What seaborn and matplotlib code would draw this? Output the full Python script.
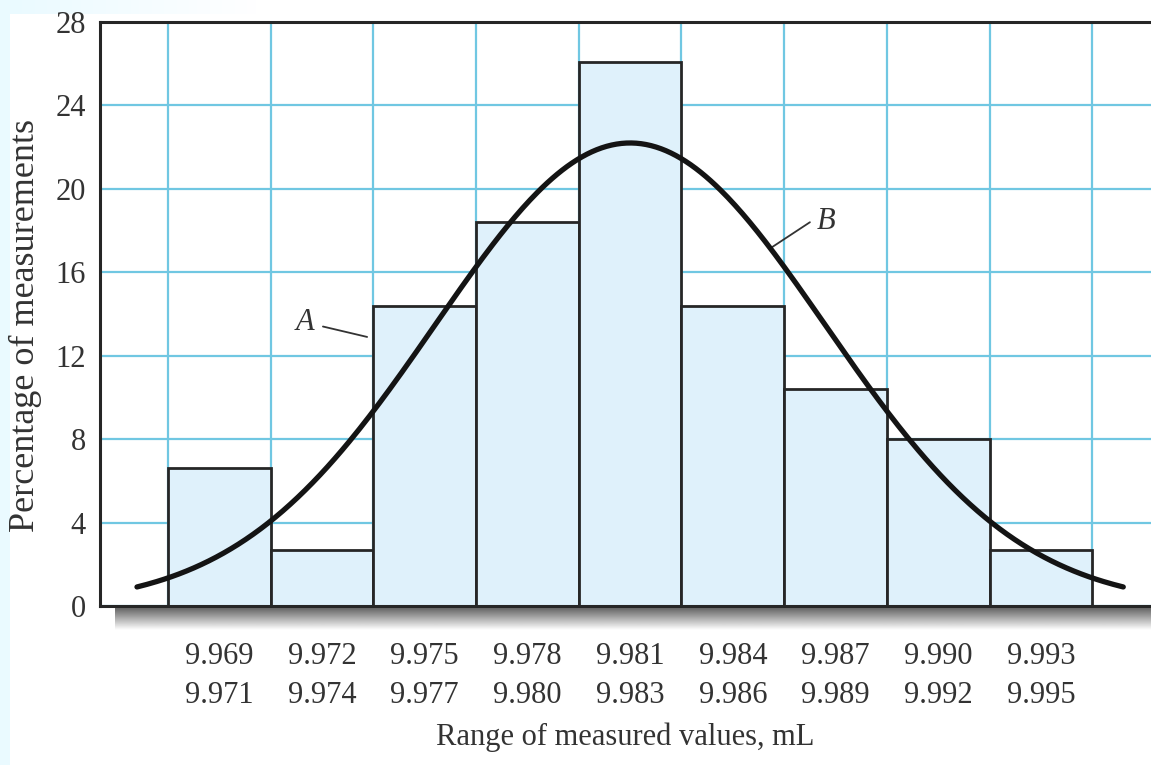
import numpy as np
import matplotlib
matplotlib.use("Agg")
import matplotlib.pyplot as plt
from matplotlib.colors import LinearSegmentedColormap
import seaborn as sns

# histogram data (percent of measurements per volume range, mL)
bin_low = [9.969, 9.972, 9.975, 9.978, 9.981, 9.984, 9.987, 9.990, 9.993]
bin_high = [9.971, 9.974, 9.977, 9.980, 9.983, 9.986, 9.989, 9.992, 9.995]
percent = [6.6, 2.7, 14.4, 18.4, 26.1, 14.4, 10.4, 8.0, 2.7]
y_ticks = [0, 4, 8, 12, 16, 20, 24, 28]

# normal curve B drawn over the histogram
curve_mean = 9.982
curve_sd = 0.0057
curve_peak = 22.2
curve_start, curve_end = 9.9676, 9.9964

width = 0.003
centers = [(lo + hi) / 2 for lo, hi in zip(bin_low, bin_high)]
edges = [c - width / 2 for c in centers] + [centers[-1] + width / 2]
tick_labels = [f"{lo:.3f}\n{hi:.3f}" for lo, hi in zip(bin_low, bin_high)]

sns.set_style("white")
plt.rcParams["font.family"] = ["Liberation Serif", "DejaVu Serif"]

fig = plt.figure(figsize=(11.51, 7.65), dpi=100)
ax = fig.add_axes([100 / 1151, 1 - 606 / 765, 1 - 100 / 1151, 584 / 765])

grid_col = "#70c7e2"
bar_fill = "#dff1fb"
ink = "#262626"
txt = "#333333"

sns.histplot(x=centers, weights=percent, bins=edges, ax=ax, color=bar_fill,
             edgecolor=ink, linewidth=2, alpha=1, zorder=2)

xs = np.linspace(curve_start, curve_end, 400)
ys = curve_peak * np.exp(-0.5 * ((xs - curve_mean) / curve_sd) ** 2)
sns.lineplot(x=xs, y=ys, ax=ax, color="#141414", linewidth=3.8, zorder=3)

ax.set_xticks(centers)
ax.set_xticklabels(tick_labels, fontsize=22, color=txt, linespacing=1.45)
grid_edges = [edges[0] + k * width for k in range(11)]
ax.set_xticks(grid_edges, minor=True)
ax.set_yticks(y_ticks)
ax.set_yticklabels([str(v) for v in y_ticks], fontsize=22, color=txt)
ax.tick_params(which="both", length=0)
ax.tick_params(axis="x", pad=26)
ax.tick_params(axis="y", pad=10)

# limits after the ticks so the extra grid tick does not widen the view
ax.set_xlim(edges[0] - 0.66 * width, edges[0] + 9.57 * width)
ax.set_ylim(0, 28)

ax.set_axisbelow(True)
ax.grid(False)
ax.grid(which="minor", axis="x", color=grid_col, linewidth=1.6)
ax.grid(which="major", axis="y", color=grid_col, linewidth=1.6)

for side in ["left", "top", "bottom"]:
    ax.spines[side].set_visible(True)
    ax.spines[side].set_color(ink)
    ax.spines[side].set_linewidth(2.2)
ax.spines["right"].set_visible(False)

ax.set_xlabel("Range of measured values, mL", fontsize=22, color=txt, labelpad=9)
ax.set_ylabel("")
fig.text(25 / 1151, 1 - 325 / 765, "Percentage of measurements", rotation=90,
         fontsize=26, color=txt, ha="center", va="center")

# labels A and B with leader lines
ax.text(edges[0] + 1.334 * width, 13.6, "A", style="italic", fontsize=22,
        color=txt, ha="center", va="center")
ax.plot([edges[0] + 1.51 * width, edges[0] + 1.94 * width], [13.4, 12.9],
        color=txt, linewidth=1.3)
ax.text(edges[0] + 6.41 * width, 18.45, "B", style="italic", fontsize=22,
        color=txt, ha="center", va="center")
ax.plot([edges[0] + 5.88 * width, edges[0] + 6.25 * width], [17.2, 18.4],
        color=txt, linewidth=1.3)

# grey shadow under the baseline
shadow = fig.add_axes([115 / 1151, 1 - 630 / 765, 1 - 115 / 1151, 22 / 765])
grad = np.linspace(0.4, 1.0, 50).reshape(-1, 1)
shadow.imshow(grad, aspect="auto", cmap="gray", vmin=0, vmax=1)
shadow.axis("off")

# light blue scan border, kept behind the chart
border = fig.add_axes([0, 0, 10 / 1151, 1], zorder=-2)
border.set_facecolor("#eafaff")
border.set_xticks([])
border.set_yticks([])
for s in border.spines.values():
    s.set_visible(False)
top_band = fig.add_axes([10 / 1151, 1 - 14 / 765, 250 / 1151, 14 / 765], zorder=-2)
band = np.linspace(0, 1, 60).reshape(1, -1)
top_band.imshow(band, aspect="auto", vmin=0, vmax=1,
                cmap=LinearSegmentedColormap.from_list("b", ["#eafaff", "#ffffff"]))
top_band.axis("off")

fig.savefig("out.png", dpi=100, facecolor="white")
